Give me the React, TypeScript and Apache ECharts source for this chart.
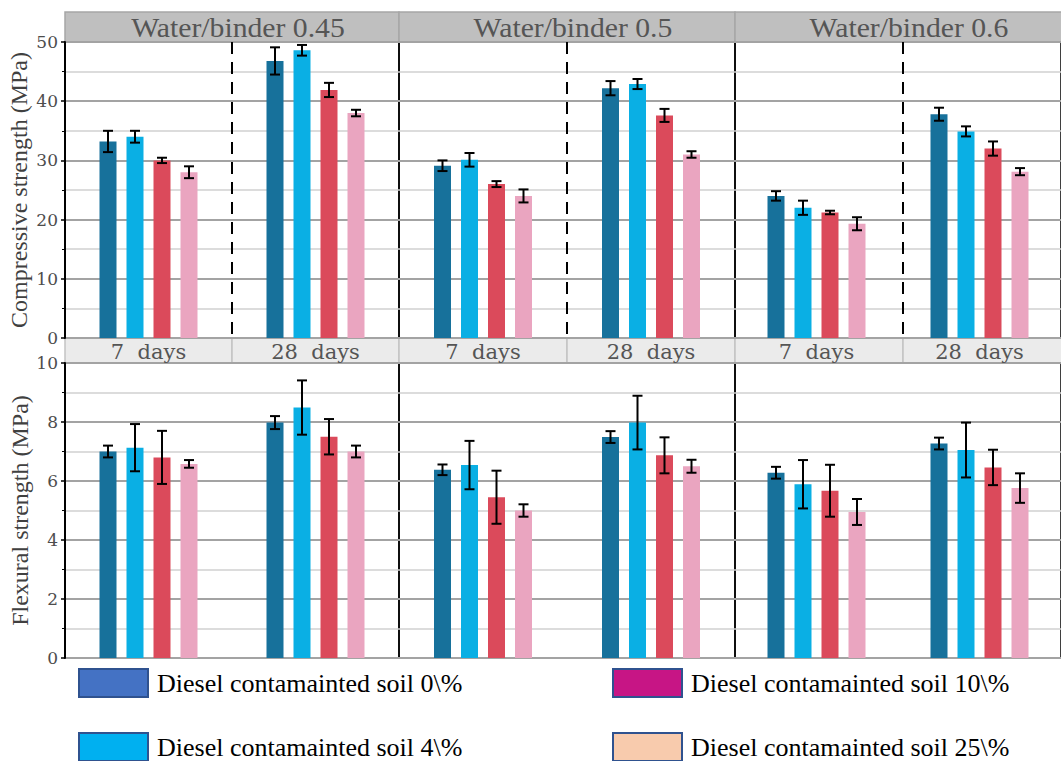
import React, { useEffect, useRef } from "react";
import * as echarts from "echarts";

// ---------- data ----------
const ratios = ["Water/binder 0.45", "Water/binder 0.5", "Water/binder 0.6"];
const ages = ["7  days", "28  days"];
const seriesNames = [
  "Diesel contamainted soil 0\\%",
  "Diesel contamainted soil 4\\%",
  "Diesel contamainted soil 10\\%",
  "Diesel contamainted soil 25\\%",
];
const yTitles = ["Compressive strength (MPa)", "Flexural strength (MPa)"];

// order: [0.45 7d, 0.45 28d, 0.5 7d, 0.5 28d, 0.6 7d, 0.6 28d]
const compressive0 = [33.2, 46.8, 29.1, 42.2, 24.0, 37.8];
const compressive4 = [34.0, 48.6, 30.1, 42.9, 22.0, 34.9];
const compressive10 = [30.0, 41.9, 26.0, 37.6, 21.2, 32.0];
const compressive25 = [28.0, 38.0, 24.0, 31.0, 19.3, 28.1];
const compressiveErr0 = [1.8, 2.3, 0.9, 1.2, 0.8, 1.1];
const compressiveErr4 = [1.0, 0.9, 1.15, 0.85, 1.2, 0.85];
const compressiveErr10 = [0.45, 1.2, 0.5, 1.1, 0.3, 1.2];
const compressiveErr25 = [1.0, 0.55, 1.1, 0.55, 1.1, 0.6];

const flexural0 = [7.0, 7.98, 6.38, 7.49, 6.28, 7.27];
const flexural4 = [7.13, 8.49, 6.54, 7.98, 5.89, 7.05];
const flexural10 = [6.8, 7.5, 5.45, 6.87, 5.67, 6.46];
const flexural25 = [6.58, 7.0, 5.0, 6.5, 4.95, 5.76];
const flexuralErr0 = [0.2, 0.22, 0.18, 0.2, 0.2, 0.2];
const flexuralErr4 = [0.8, 0.92, 0.82, 0.91, 0.82, 0.93];
const flexuralErr10 = [0.9, 0.6, 0.9, 0.61, 0.88, 0.6];
const flexuralErr25 = [0.13, 0.2, 0.21, 0.22, 0.44, 0.5];

const yMax = [50, 10];
const yInterval = [10, 2];

// ---------- style / layout ----------
const barColors = ["#17719b", "#0aafe4", "#db4a5b", "#eaa5c0"];
const legendColors = ["#4472c4", "#00b0f0", "#c71585", "#f8cbad"];
const ROWS = [
  { top: 42, height: 296 },
  { top: 363, height: 295 },
];
const COLS = [
  { left: 65, width: 334 },
  { left: 399, width: 336 },
  { left: 735, width: 336 },
];
const BAR_W = 17;
const GAP_PX = 10;

export default function App() {
  const ref = useRef<HTMLDivElement>(null);

  useEffect(() => {
    if (!ref.current) return;
    const chart = echarts.init(ref.current, null, { renderer: "svg" });

    const values = [
      [compressive0, compressive4, compressive10, compressive25],
      [flexural0, flexural4, flexural10, flexural25],
    ];
    const errors = [
      [compressiveErr0, compressiveErr4, compressiveErr10, compressiveErr25],
      [flexuralErr0, flexuralErr4, flexuralErr10, flexuralErr25],
    ];

    const grid: any[] = [];
    const xAxis: any[] = [];
    const yAxis: any[] = [];
    const series: any[] = [];
    const graphic: any[] = [];

    ROWS.forEach((row, r) => {
      COLS.forEach((col, c) => {
        const g = r * 3 + c;
        grid.push({
          left: col.left,
          top: row.top,
          width: col.width,
          height: row.height,
          show: true,
          borderColor: "#000",
          borderWidth: 1.5,
        });
        xAxis.push({
          gridIndex: g,
          type: "category",
          data: ages,
          axisTick: { show: false },
          axisLine: { show: false },
          splitLine: { show: false },
          axisLabel:
            r === 0
              ? {
                  show: true,
                  fontFamily: "DejaVu Serif",
                  fontSize: 21,
                  color: "#555555",
                  margin: 3,
                }
              : { show: false },
        });
        yAxis.push({
          gridIndex: g,
          type: "value",
          min: 0,
          max: yMax[r],
          interval: yInterval[r],
          name: c === 0 ? yTitles[r] : "",
          nameLocation: "middle",
          nameGap: r === 0 ? 34 : 20,
          nameTextStyle: {
            fontFamily: "Liberation Serif",
            fontSize: 24,
            color: "#404040",
          },
          axisLine: { show: c === 0, lineStyle: { color: "#000", width: 2 } },
          axisTick: {
            show: c === 0,
            length: 4,
            lineStyle: { color: "#000", width: 1.5 },
          },
          minorTick: {
            show: c === 0,
            splitNumber: 2,
            length: 3,
            lineStyle: { color: "#000", width: 1 },
          },
          axisLabel: {
            show: c === 0,
            fontFamily: "DejaVu Serif",
            fontSize: 17,
            color: "#4d4d4d",
            margin: 7,
          },
          splitLine: { show: true, lineStyle: { color: "#a3a3a3", width: 2 } },
          minorSplitLine: {
            show: true,
            lineStyle: { color: "#d0d0d0", width: 1.5 },
          },
        });

        for (let s = 0; s < 4; s++) {
          const vals = [values[r][s][c * 2], values[r][s][c * 2 + 1]];
          const errs = [errors[r][s][c * 2], errors[r][s][c * 2 + 1]];
          series.push({
            type: "bar",
            name: seriesNames[s],
            xAxisIndex: g,
            yAxisIndex: g,
            data: vals,
            barWidth: BAR_W,
            barGap: (GAP_PX / BAR_W) * 100 + "%",
            itemStyle: { color: barColors[s] },
            z: 2,
          });
          const offset = (s - 1.5) * (BAR_W + GAP_PX);
          series.push({
            type: "custom",
            name: "err-" + g + "-" + s,
            xAxisIndex: g,
            yAxisIndex: g,
            z: 4,
            encode: { x: 0, y: [1, 2] },
            data: vals.map((v, i) => [i, v - errs[i], v + errs[i]]),
            renderItem: (params: any, api: any) => {
              const xi = api.value(0);
              const lo = api.coord([xi, api.value(1)]);
              const hi = api.coord([xi, api.value(2)]);
              const cx = hi[0] + offset;
              const half = 5;
              const st = { stroke: "#000", lineWidth: 2 };
              return {
                type: "group",
                children: [
                  { type: "line", shape: { x1: cx, y1: hi[1], x2: cx, y2: lo[1] }, style: st },
                  { type: "line", shape: { x1: cx - half, y1: hi[1], x2: cx + half, y2: hi[1] }, style: st },
                  { type: "line", shape: { x1: cx - half, y1: lo[1], x2: cx + half, y2: lo[1] }, style: st },
                ],
              };
            },
          });
        }
      });
    });

    // header strip
    COLS.forEach((col, c) => {
      graphic.push({
        type: "rect",
        z: -5,
        shape: { x: col.left, y: 12, width: col.width, height: 30 },
        style: { fill: "#bfbfbf", stroke: "#a6a6a6", lineWidth: 1.5 },
      });
      graphic.push({
        type: "text",
        z: 5,
        x: col.left + col.width / 2 + 6,
        y: 28,
        scaleX: 1.1,
        style: {
          text: ratios[c],
          font: '27px "Liberation Serif"',
          fill: "#555555",
          textAlign: "center",
          textVerticalAlign: "middle",
        },
      });
      // days strip
      for (let h = 0; h < 2; h++) {
        graphic.push({
          type: "rect",
          z: -5,
          shape: {
            x: col.left + (h * col.width) / 2,
            y: ROWS[0].top + ROWS[0].height,
            width: col.width / 2,
            height: ROWS[1].top - (ROWS[0].top + ROWS[0].height),
          },
          style: { fill: "#ebebeb", stroke: "#c4c4c4", lineWidth: 1.5 },
        });
      }
      // dashed separator (top row)
      const cx = col.left + col.width / 2;
      graphic.push({
        type: "line",
        z: 5,
        shape: { x1: cx, y1: ROWS[0].top, x2: cx, y2: ROWS[0].top + ROWS[0].height },
        style: { stroke: "#000", lineWidth: 2, lineDash: [12, 8] },
      });
    });

    const legendPos = [
      { left: 78, top: 668 },
      { left: 78, top: 732 },
      { left: 612, top: 668 },
      { left: 612, top: 732 },
    ];
    const legend = seriesNames.map((n, i) => ({
      data: [
        {
          name: n,
          itemStyle: { color: legendColors[i], borderColor: "#2f528f", borderWidth: 2 },
        },
      ],
      itemStyle: { color: legendColors[i], borderColor: "#2f528f", borderWidth: 2 },
      left: legendPos[i].left,
      top: legendPos[i].top,
      padding: 0,
      icon: "rect",
      itemWidth: 69,
      itemHeight: 28,
      selectedMode: false,
      textStyle: {
        fontFamily: "Liberation Serif",
        fontSize: 26,
        color: "#000",
        padding: [0, 0, 0, 4],
      },
    }));

    chart.setOption({
      animation: false,
      backgroundColor: "#ffffff",
      grid,
      xAxis,
      yAxis,
      series,
      legend,
      graphic: { elements: graphic },
    });

    return () => chart.dispose();
  }, []);

  return (
    <div
      ref={ref}
      style={{ position: "fixed", left: 0, top: 0, width: 1061, height: 761, background: "#fff" }}
    />
  );
}
